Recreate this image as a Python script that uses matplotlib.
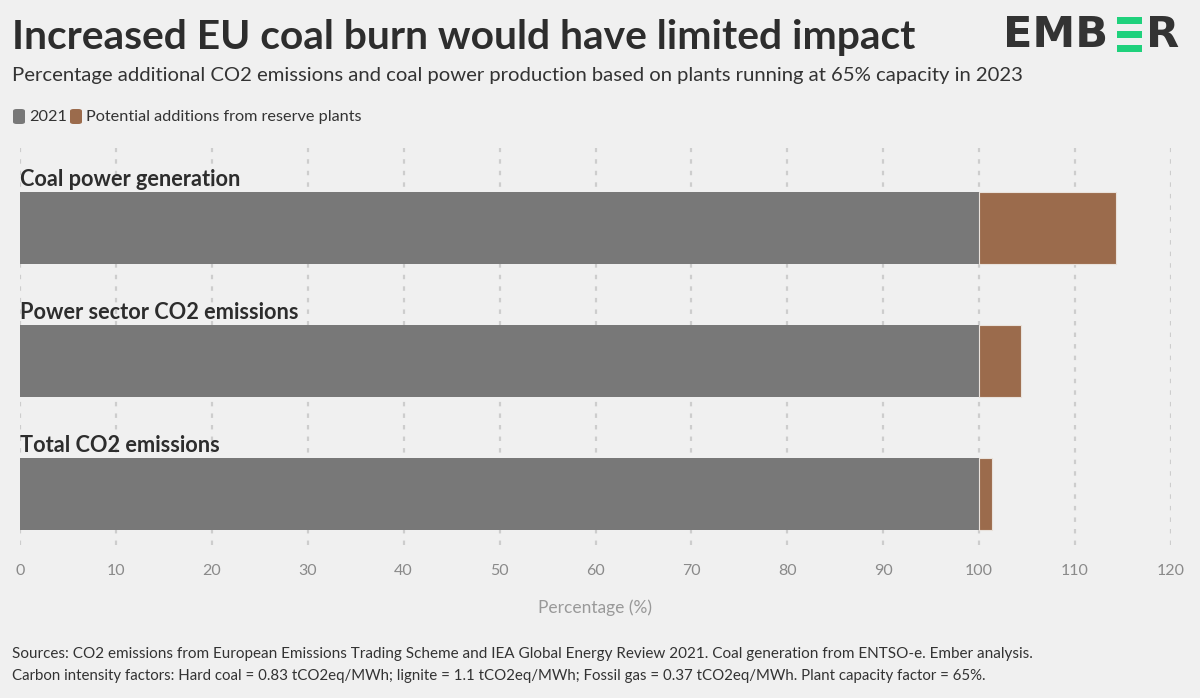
import matplotlib
matplotlib.use("Agg")
import matplotlib.pyplot as plt
from matplotlib.patches import FancyBboxPatch, Rectangle

# ---- data ----
categories = ["Coal power generation", "Power sector CO2 emissions", "Total CO2 emissions"]
base_2021 = [100, 100, 100]
additions = [14.3, 4.4, 1.3]
xticks = [0, 10, 20, 30, 40, 50, 60, 70, 80, 90, 100, 110, 120]

BG = "#f0f0f0"
GREY = "#787878"
BROWN = "#9b6b4c"
DARK = "#2d2d2d"
FONT = "Lato"

W, H = 1200, 698
fig = plt.figure(figsize=(W / 100, H / 100), dpi=100, facecolor=BG)
plt.rcParams["font.family"] = [FONT, "DejaVu Sans"]


def fx(px):
    return px / W


def fy(py):
    return 1 - py / H


ax = fig.add_axes([fx(20), fy(545), fx(1171) - fx(20), fy(148) - fy(545)])
ax.set_facecolor(BG)

ypos = list(range(len(categories)))
ax.barh(ypos, base_2021, height=0.54, color=GREY, zorder=3)
ax.barh(ypos, additions, left=base_2021, height=0.54, color=BROWN,
        edgecolor="#e9e2dc", linewidth=0.8, zorder=3)

for y, name in zip(ypos, categories):
    ax.text(0, y - 0.285, name, fontsize=15.7, fontweight="bold", color=DARK,
            ha="left", va="bottom", zorder=4)

ax.set_xlim(0, 120)
ax.set_ylim(len(categories) - 1 + 0.38, -0.6)
ax.set_xticks(xticks)
ax.set_xticklabels([str(t) for t in xticks], fontsize=11.5, color="#8a8a8a")
ax.set_yticks([])
ax.tick_params(axis="x", length=0, pad=14)
for s in ax.spines.values():
    s.set_visible(False)
ax.xaxis.grid(True, color="#cdcdcd", linestyle=(0, (2, 3.2)), linewidth=1.6, zorder=0)
ax.set_xlabel("Percentage (%)", fontsize=12.5, color="#999999", labelpad=15)

# ---- titles ----
fig.text(fx(12), fy(38), "Increased EU coal burn would have limited impact",
         fontsize=29.3, fontweight="bold", color=DARK, ha="left", va="center")
fig.text(fx(12), fy(76),
         "Percentage additional CO2 emissions and coal power production based on plants running at 65% capacity in 2023",
         fontsize=14.6, color="#333333", ha="left", va="center")

# ---- legend ----
legend_items = [("2021", GREY, 13), ("Potential additions from reserve plants", BROWN, 70)]
for label, col, x0 in legend_items:
    fig.patches.append(FancyBboxPatch((fx(x0), fy(124)), fx(12), fy(109) - fy(124),
                                      boxstyle="round,pad=0,rounding_size=0.003",
                                      transform=fig.transFigure, facecolor=col,
                                      edgecolor="none"))
    fig.text(fx(x0 + 16), fy(117), label, fontsize=11.7, color="#333333",
             ha="left", va="center")

# ---- logo ----
fig.text(fx(1108), fy(35), "EMB", fontsize=31, fontweight="black", color="#333333",
         ha="right", va="center", family="DejaVu Sans")
for top in (17, 31, 45):
    fig.patches.append(Rectangle((fx(1117), fy(top + 7)), fx(25), fy(top) - fy(top + 7),
                                 transform=fig.transFigure, facecolor="#1fd17c",
                                 edgecolor="none"))
fig.text(fx(1146), fy(35), "R", fontsize=31, fontweight="black", color="#333333",
         ha="left", va="center", family="DejaVu Sans")

# ---- footer ----
fig.text(fx(12), fy(654),
         "Sources: CO2 emissions from European Emissions Trading Scheme and IEA Global Energy Review 2021. "
         "Coal generation from ENTSO-e. Ember analysis.",
         fontsize=11, color="#333333", ha="left", va="center")
fig.text(fx(12), fy(676),
         "Carbon intensity factors: Hard coal = 0.83 tCO2eq/MWh; lignite = 1.1 tCO2eq/MWh; "
         "Fossil gas = 0.37 tCO2eq/MWh. Plant capacity factor = 65%.",
         fontsize=10.8, color="#333333", ha="left", va="center")

fig.savefig("out.png", dpi=100, facecolor=BG)
